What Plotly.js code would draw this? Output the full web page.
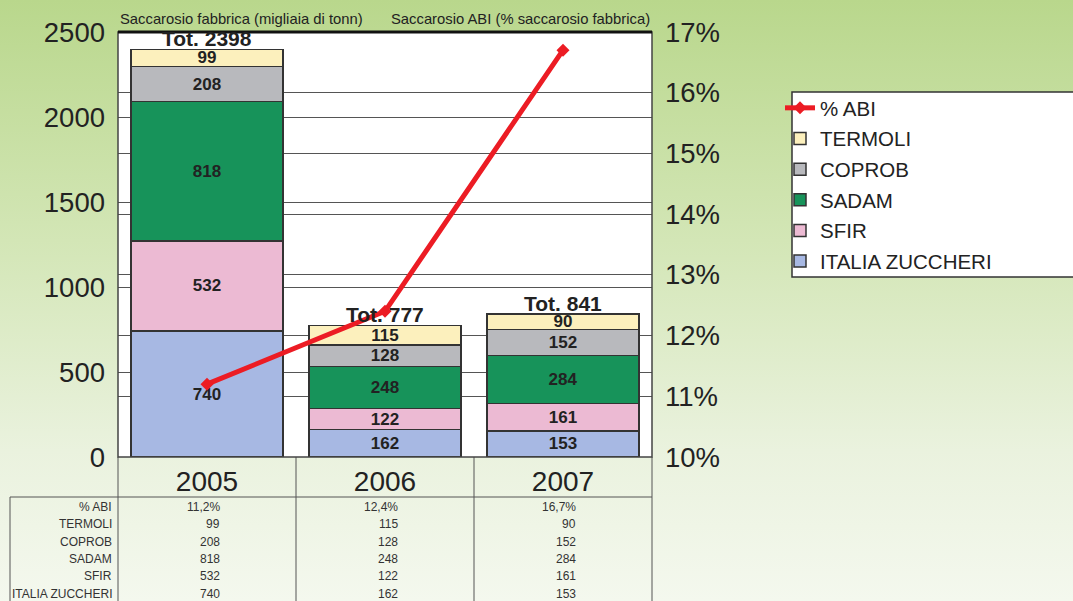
<!DOCTYPE html>
<html>
<head>
<meta charset="utf-8">
<script src="https://cdn.plot.ly/plotly-3.0.1.min.js"></script>
<style>
html,body{margin:0;padding:0;width:1073px;height:601px;overflow:hidden;
background:linear-gradient(to bottom,#b9d78c 0%,#d3e6b6 40%,#eaf2de 75%,#f4f8ee 100%);}
#chart{width:1073px;height:601px;}
</style>
</head>
<body>
<div id="chart"></div>
<script>
const years = ['2005', '2006', '2007'];
const italiaZuccheri = [740, 162, 153];
const sfir = [532, 122, 161];
const sadam = [818, 248, 284];
const coprob = [208, 128, 152];
const termoli = [99, 115, 90];
const totals = [2398, 777, 841];
const pctAbi = [11.2, 12.4, 16.7];
const leftTicks = [0, 500, 1000, 1500, 2000, 2500];
const rightTicks = [10, 11, 12, 13, 14, 15, 16, 17];

const seriesNames = ['ITALIA ZUCCHERI', 'SFIR', 'SADAM', 'COPROB', 'TERMOLI'];
const seriesValues = [italiaZuccheri, sfir, sadam, coprob, termoli];
const seriesColors = ['#a7b8e3', '#ecbad3', '#17935a', '#b8b9bd', '#fcf0bd'];

const FONT = 'Liberation Sans, Arial, sans-serif';
const xIdx = years.map((_, i) => i);

const traces = seriesNames.map((name, i) => ({
  type: 'bar', name: name, x: xIdx, y: seriesValues[i],
  legendgroup: 'g' + i, legendrank: 10 - i,
  text: seriesValues[i].map(String),
  textposition: 'inside', insidetextanchor: 'middle', constraintext: 'none', textangle: 0,
  textfont: {family: FONT, size: 17, color: '#222', weight: 'bold'},
  marker: {color: seriesColors[i], line: {color: '#333', width: 1.5}},
  hoverinfo: 'skip'
}));

traces.push({
  type: 'scatter', mode: 'lines+markers', name: '% ABI', x: xIdx, y: pctAbi,
  yaxis: 'y2', legendgroup: 'gabi', legendrank: 1, line: {color: '#ec1c24', width: 5},
  marker: {symbol: 'diamond', size: 10, color: '#ec1c24'},
  hoverinfo: 'skip'
});

const annotations = [];
totals.forEach((t, j) => {
  annotations.push({x: j, y: t, xref: 'x', yref: 'y', text: 'Tot. ' + t,
    showarrow: false, yanchor: 'bottom', yshift: -3,
    font: {family: FONT, size: 21, color: '#222', weight: 'bold'}});
});

annotations.push({xref: 'paper', yref: 'paper', x: 0, y: 1, xanchor: 'left', yanchor: 'bottom',
  yshift: 3, text: 'Saccarosio fabbrica (migliaia di tonn)', showarrow: false,
  font: {family: FONT, size: 14.8, color: '#222'}});
annotations.push({xref: 'paper', yref: 'paper', x: 1, y: 1, xanchor: 'right', yanchor: 'bottom',
  yshift: 3, text: 'Saccarosio ABI (% saccarosio fabbrica)', showarrow: false,
  font: {family: FONT, size: 14.8, color: '#222'}});

// data table below
const tableLabels = ['% ABI', 'TERMOLI', 'COPROB', 'SADAM', 'SFIR', 'ITALIA ZUCCHERI'];
const tableRows = [
  pctAbi.map(v => v.toFixed(1).replace('.', ',') + '%'),
  termoli.map(String), coprob.map(String), sadam.map(String), sfir.map(String), italiaZuccheri.map(String)
];
const plotH = 425;
const rowTop = -40 / plotH;
const rowH = 17.3 / plotH;
tableLabels.forEach((lab, r) => {
  const yy = rowTop - (r + 0.5) * rowH - 1.5 / plotH;
  annotations.push({xref: 'paper', yref: 'paper', x: 0, y: yy, xanchor: 'right', yanchor: 'middle',
    xshift: -4, text: lab, showarrow: false, font: {family: FONT, size: 12, color: '#333'}});
  years.forEach((yr, j) => {
    annotations.push({xref: 'x', yref: 'paper', x: j, y: yy, xanchor: 'right', yanchor: 'middle',
      xshift: 15, text: tableRows[r][j], showarrow: false, font: {family: FONT, size: 12, color: '#333'}});
  });
});

const tableLeft = (10 - 118) / 534;
const tableBottom = -160 / plotH;
const shapes = [];
// legend box
shapes.push({type: 'rect', xref: 'paper', yref: 'paper', x0: (792 - 118) / 534, x1: (1090 - 118) / 534,
  y0: (457 - 277) / plotH, y1: (457 - 92) / plotH, fillcolor: '#ffffff', line: {color: '#333', width: 1.5}});
[0, 1/3, 2/3, 1].forEach(xp => {
  shapes.push({type: 'line', xref: 'paper', yref: 'paper', x0: xp, x1: xp, y0: 0, y1: rowTop,
    line: {color: '#555', width: 1}});
  shapes.push({type: 'line', xref: 'paper', yref: 'paper', x0: xp, x1: xp, y0: rowTop, y1: tableBottom,
    line: {color: '#555', width: 1}});
});
shapes.push({type: 'line', xref: 'paper', yref: 'paper', x0: tableLeft, x1: tableLeft, y0: rowTop, y1: tableBottom,
  line: {color: '#555', width: 1}});
shapes.push({type: 'line', xref: 'paper', yref: 'paper', x0: tableLeft, x1: 1, y0: rowTop, y1: rowTop,
  line: {color: '#555', width: 1}});
shapes.push({type: 'rect', xref: 'paper', yref: 'paper', x0: 0, x1: 1, y0: 0, y1: 1,
  line: {color: '#444', width: 1.5}, layer: 'above'});
shapes.push({type: 'line', xref: 'paper', yref: 'paper', x0: 0, x1: 1, y0: 1, y1: 1,
  line: {color: '#111', width: 3}, layer: 'above'});

const layout = {
  width: 1073, height: 601,
  margin: {l: 118, r: 421, t: 32, b: 144},
  paper_bgcolor: 'rgba(0,0,0,0)', plot_bgcolor: '#ffffff',
  barmode: 'stack', bargap: 0.145,
  font: {family: FONT, color: '#222'},
  showlegend: true,
  legend: {x: (780 - 118) / 534, y: (457 - 88) / plotH, xanchor: 'left', yanchor: 'top', traceorder: 'grouped',
    bgcolor: 'rgba(0,0,0,0)', borderwidth: 0,
    font: {family: FONT, size: 20.5, color: '#222'}, tracegroupgap: 1},
  xaxis: {type: 'linear', range: [-0.5, 2.5], tickvals: xIdx, ticktext: years,
    tickfont: {family: FONT, size: 28, color: '#222'},
    ticks: '', ticklabelstandoff: 5, showgrid: false, zeroline: false, showline: false},
  yaxis: {range: [0, 2500], tickvals: leftTicks, ticktext: leftTicks.map(String),
    tickfont: {family: FONT, size: 27.5, color: '#222'}, ticks: '', ticklabelstandoff: 12,
    showgrid: true, gridcolor: '#555', gridwidth: 1, zeroline: false, showline: false},
  yaxis2: {range: [10, 17], overlaying: 'y', side: 'right', tickvals: rightTicks,
    ticktext: rightTicks.map(v => v + '%'), tickfont: {family: FONT, size: 27.5, color: '#222'},
    ticks: '', ticklabelstandoff: 12,
    showgrid: true, gridcolor: '#555', gridwidth: 1, zeroline: false, showline: false},
  annotations: annotations,
  shapes: shapes
};

Plotly.newPlot('chart', traces, layout, {displayModeBar: false, staticPlot: true});
</script>
</body>
</html>
